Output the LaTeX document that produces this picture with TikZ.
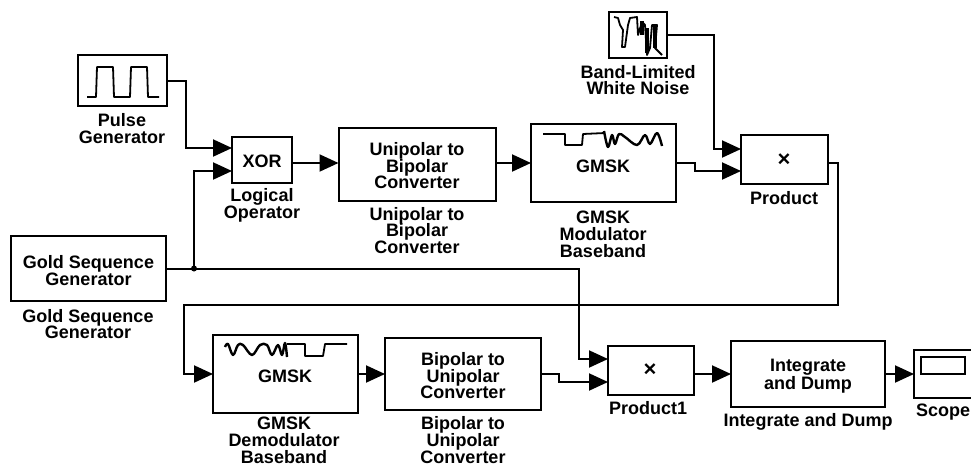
\documentclass[tikz,border=0pt]{standalone}
\usepackage{fontspec}
\setmainfont{Liberation Sans}
\usetikzlibrary{arrows.meta}
\newcommand{\lowerfirst}{\rule{0pt}{16.5pt}}
\tikzset{
  blockbox/.style={draw=black,line width=2pt,rectangle,inner sep=0pt,outer sep=0pt,align=center,
    font=\fontsize{18}{16.8}\selectfont\bfseries},
  caption/.style={inner sep=0pt,outer sep=0pt,align=center,yshift=-1.5pt,font=\fontsize{18}{16.8}\selectfont\bfseries},
  wire/.style={draw=black,line width=2pt,-{Triangle[length=19pt,width=17pt]}},
  wave/.style={draw=black,line width=1.8pt,line join=round}
}
\begin{document}
\begin{tikzpicture}[x=1pt,y=-1pt]
\useasboundingbox (0,0) rectangle (971,466);
% blocks
\node[blockbox,minimum width=89pt,minimum height=51pt] (pulse) at (122.5,80.5) {};
\node[blockbox,minimum width=60pt,minimum height=46pt] (xor) at (262,159.5) {\lowerfirst XOR};
\node[blockbox,minimum width=157pt,minimum height=73pt] (uni) at (417,164) {\lowerfirst Unipolar to\\Bipolar\\Converter};
\node[blockbox,minimum width=145pt,minimum height=78pt] (mod) at (603.5,163) {};
\node[caption] (modtext) at (603,165) {GMSK};
\node[blockbox,minimum width=58pt,minimum height=46pt] (noise) at (638,35) {};
\node[blockbox,minimum width=87pt,minimum height=49pt] (prod) at (784.5,159.5) {};
\node[font=\fontsize{22}{22}\selectfont\bfseries,inner sep=0pt] (prodx) at (784,160) {×};
\node[blockbox,minimum width=155pt,minimum height=65pt] (gold) at (88.5,268.5) {\lowerfirst Gold Sequence\\Generator};
\node[blockbox,minimum width=145pt,minimum height=78pt] (demod) at (285.5,374) {};
\node[caption] (demodtext) at (285,375) {GMSK};
\node[blockbox,minimum width=156pt,minimum height=72pt] (bip) at (463,374) {\lowerfirst Bipolar to\\Unipolar\\Converter};
\node[blockbox,minimum width=86pt,minimum height=49pt] (prodb) at (651,370.5) {};
\node[font=\fontsize{22}{22}\selectfont\bfseries,inner sep=0pt] (prodbx) at (650,370) {×};
\node[blockbox,minimum width=154pt,minimum height=66pt] (integ) at (808,374) {\lowerfirst Integrate\\and Dump};
\node[blockbox,minimum width=58pt,minimum height=48pt] (scope) at (943,374) {};
\node[blockbox,line width=1.7pt,minimum width=44pt,minimum height=17pt] (scopescreen) at (943,365.5) {};
% captions
\node[caption] (c1) at (122,127) {Pulse\\Generator};
\node[caption] (c2) at (262,204) {Logical\\Operator};
\node[caption] (c3) at (417,229) {Unipolar to\\Bipolar\\Converter};
\node[caption] (c4) at (603,233) {GMSK\\Modulator\\Baseband};
\node[caption] (c5) at (638,78.5) {Band-Limited\\White Noise};
\node[caption] (c6) at (784,197) {Product};
\node[caption] (c7) at (88,322.5) {Gold Sequence\\Generator};
\node[caption] (c8) at (284,439) {GMSK\\Demodulator\\Baseband};
\node[caption] (c9) at (463,438.5) {Bipolar to\\Unipolar\\Converter};
\node[caption] (c10) at (648,407) {Product1};
\node[caption] (c11) at (808,420) {Integrate and Dump};
\node[caption] (c12) at (943,411) {Scope};
% connectors
\draw[wire] (pulse.east) -- ++(19,0) |- ([yshift=11.5pt]xor.west);
\draw[wire] ([yshift=-3.5pt]xor.east) -- ([yshift=1pt]uni.west);
\draw[wire] ([yshift=1pt]uni.east) -- (mod.west);
\draw[wire] (mod.east) -- ++(19,0) |- ([yshift=-11.5pt]prod.west);
\draw[wire] (noise.east) -- ++(47,0) |- ([yshift=10.5pt]prod.west);
\draw[wire] ([yshift=-3.5pt]prod.east) -- ++(10,0) |- (184,305) |- (demod.west);
\draw[wire] (demod.east) -- (bip.west);
\draw[wire] (bip.east) -- ++(18,0) |- ([yshift=-11.5pt]prodb.west);
\draw[wire] ([yshift=-3.5pt]prodb.east) -- (integ.west);
\draw[wire] (integ.east) -- (scope.west);
\draw[wire] (gold.east) -- (579,268.5) |- ([yshift=11.5pt]prodb.west);
\coordinate (tap) at (194,268.5);
\draw[wire] (tap) |- ([yshift=-11.5pt]xor.west);
\fill (tap) circle (3pt);
% icons
\draw[wave] (87,97) -- (96,97) -- (97,67) -- (113,67) -- (114,97) -- (130,97) -- (131,67) -- (147,67) -- (148,97) -- (159,97);
\draw[wave] (543,134) -- (565,134) -- (565,145) -- (582,145) -- (583,134) -- (605,133);
\draw[wave,line width=2.4pt] plot[smooth,tension=.6] coordinates {(604,131) (608,147) (612,135) (615,144) (619,134) (625,137) (637,145) (645,135) (650,144) (657,133) (662,146)};
\draw[wave,line width=2.4pt] plot[smooth,tension=.6] coordinates {(225,347) (228,344) (233,355) (238,345) (243,345) (252,355) (260,345) (267,345) (272,355) (278,345) (282,355) (285,343) (287,357)};
\draw[wave] (287,344) -- (305,344) -- (305,356) -- (323,356) -- (325,344) -- (347,344);
\draw[wave] (614,17) -- (618,18) -- (620,25) -- (623,30) -- (622,47) -- (625,47) -- (628,25) -- (630,18) -- (637,17) -- (638,35) -- (642,22) -- (645,25) -- (647,55) -- (650,48) -- (652,25) -- (657,25) -- (655,48) -- (662,55);
\draw[line width=3.5pt] (642,21) -- (642,35) (647,28) -- (647,53) (655,26) -- (655,48);
\end{tikzpicture}
\end{document}
